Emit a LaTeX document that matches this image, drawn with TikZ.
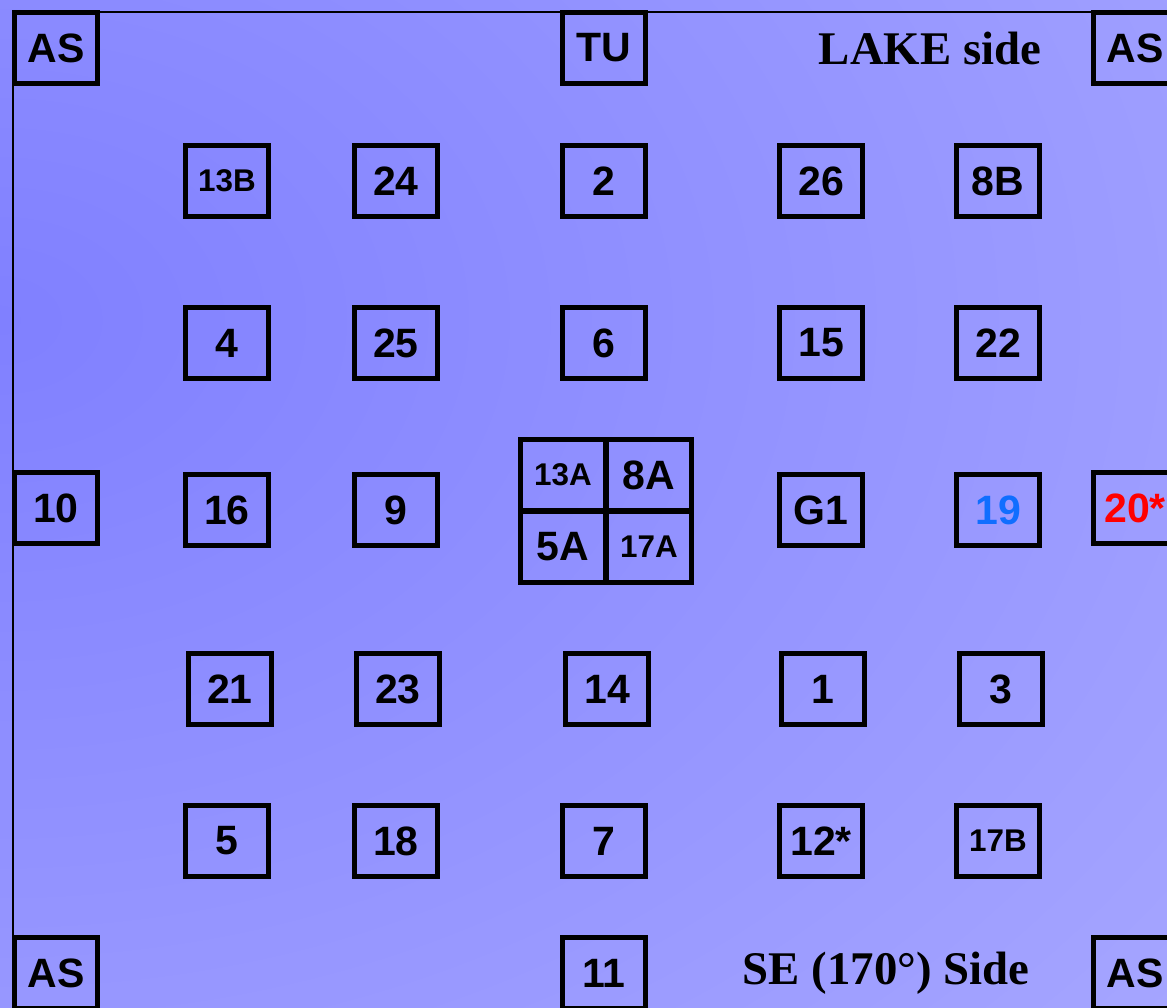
\documentclass[tikz,border=0pt]{standalone}
\usepackage{fontspec}
\setmainfont{Liberation Serif}
\setsansfont{Liberation Sans}
\definecolor{bgdark}{RGB}{128,128,255}
\definecolor{bglight}{RGB}{182,182,255}
\definecolor{numB}{RGB}{16,110,255}
\definecolor{numR}{RGB}{255,0,0}

\begin{document}
\begin{tikzpicture}[x=0.5pt,y=-0.5pt,
  cell/.style={draw,line width=2.5pt,minimum width=41.5pt,minimum height=35.5pt,inner sep=0pt,
    font=\sffamily\bfseries\fontsize{20.5}{23}\selectfont},
  cellsm/.style={cell,font=\sffamily\bfseries\fontsize{15.7}{18}\selectfont},
  quad/.style={minimum width=42.5pt},
  side/.style={font=\bfseries\fontsize{23.4}{26}\selectfont}]
\useasboundingbox (0,0) rectangle (1167,1007);
\begin{scope}
\clip (0,0) rectangle (1167,1007);
\shade[inner color=bgdark,outer color=bglight] (0,320) ellipse (1100pt and 800pt);
\end{scope}
\draw[line width=1.4pt] (13,12) rectangle (1179,1011);   % site frame
% top edge
\node[cell] (asTL) at (56,48) {AS};
\node[cell] (tu) at (604,48) {TU};
\node[cell] (asTR) at (1135,48) {AS};
\node[side] (lake) at (930,48) {LAKE side};
% row 2
\node[cellsm] (p13B) at (227,181) {13B};
\node[cell] (p24) at (396,181) {24};
\node[cell] (p2) at (604,181) {2};
\node[cell] (p26) at (821,181) {26};
\node[cell] (p8B) at (998,181) {8B};
% row 3
\node[cell] (p4) at (227,343) {4};
\node[cell] (p25) at (396,343) {25};
\node[cell] (p6) at (604,343) {6};
\node[cell] (p15) at (821,343) {15};
\node[cell] (p22) at (998,343) {22};
% row 4 with centre block
\node[cell] (p10) at (56,508) {10};
\node[cell] (p16) at (227,510) {16};
\node[cell] (p9) at (396,510) {9};
\node[cellsm,quad] (p13A) at (563,475) {13A};
\node[cell,quad] (p8A) at (649,475) {8A};
\node[cell,quad] (p5A) at (563,547) {5A};
\node[cellsm,quad] (p17A) at (649,547) {17A};
\node[cell] (pG1) at (821,510) {G1};
\node[cell,text=numB] (p19) at (998,510) {19};
\node[cell,text=numR] (p20) at (1135,508) {20*};
% row 5
\node[cell] (p21) at (230,689) {21};
\node[cell] (p23) at (398,689) {23};
\node[cell] (p14) at (607,689) {14};
\node[cell] (p1) at (823,689) {1};
\node[cell] (p3) at (1001,689) {3};
% row 6
\node[cell] (p5) at (227,841) {5};
\node[cell] (p18) at (396,841) {18};
\node[cell] (p7) at (604,841) {7};
\node[cell] (p12) at (821,841) {12*};
\node[cellsm] (p17B) at (998,841) {17B};
% bottom edge
\node[cell] (asBL) at (56,973) {AS};
\node[cell] (p11) at (604,973) {11};
\node[cell] (asBR) at (1135,973) {AS};
\node[side] (se) at (886,973) {SE (170°) Side};
\end{tikzpicture}
\end{document}
